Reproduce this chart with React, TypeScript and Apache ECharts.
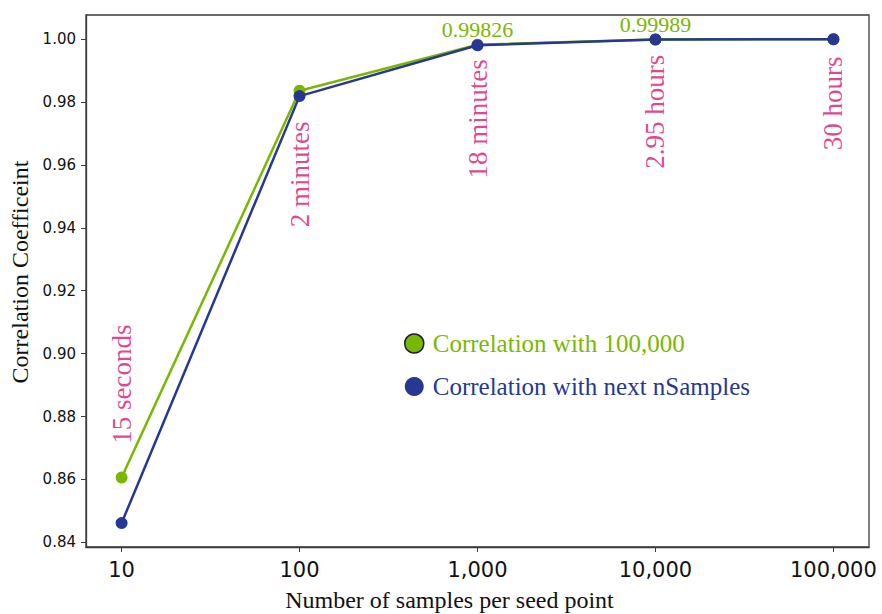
import React, { useEffect, useRef } from "react";
import * as echarts from "echarts";

// x positions are log10(number of samples)
const xExponents = [1, 2, 3, 4, 5];
const xTickLabels = ["10", "100", "1,000", "10,000", "100,000"];
const yTicks = [0.84, 0.86, 0.88, 0.9, 0.92, 0.94, 0.96, 0.98, 1.0];

const seriesNames = ["Correlation with 100,000", "Correlation with next nSamples"];
const corrWith100k = [0.8606, 0.9836, 0.99826, 0.99989, 1.0];
const corrWithNext = [0.8461, 0.9819, 0.9981, 0.9999, 1.0];
const valueLabels = ["", "", "0.99826", "0.99989", ""];

const timeLabels = ["15 seconds", "2 minutes", "18 minutes", "2.95 hours", "30 hours"];
const timeLabelCenters = [0.8903, 0.957, 0.9747, 0.9769, 0.9796];

const GREEN = "#7ab800";
const BLUE = "#263891";
const PINK = "#d81472";
const SERIF = "Liberation Serif";
const SANS = "DejaVu Sans";

export default function App() {
  const ref = useRef<HTMLDivElement>(null);
  useEffect(() => {
    document.body.style.margin = "0";
    const chart = echarts.init(ref.current!, null, { renderer: "svg" });
    chart.setOption({
      animation: false,
      backgroundColor: "#fff",
      grid: {
        left: 86,
        right: 13,
        top: 15,
        bottom: 67,
        outerBoundsMode: "none",
        containLabel: false,
        show: true,
        borderColor: "#3a3a3a",
        borderWidth: 1.3,
        backgroundColor: "transparent",
      },
      xAxis: {
        type: "value",
        min: 0.8,
        max: 5.2,
        name: "Number of samples per seed point",
        nameLocation: "middle",
        nameGap: 41,
        nameTextStyle: { fontFamily: SERIF, fontSize: 24, color: "#111", padding: [0, 56, 0, 0] },
        axisLine: { show: true, lineStyle: { color: "#3a3a3a", width: 1.3 } },
        axisTick: { show: true, length: 5, customValues: xExponents, lineStyle: { color: "#3a3a3a" } },
        axisLabel: {
          customValues: xExponents,
          margin: 12,
          fontFamily: SANS,
          fontSize: 21,
          color: "#111",
          formatter: (v: number) => {
            const i = xExponents.indexOf(Math.round(v));
            return i >= 0 ? xTickLabels[i] : "";
          },
        },
        splitLine: { show: false },
      },
      yAxis: {
        type: "value",
        min: 0.8385,
        max: 1.0077,
        name: "Correlation Coefficeint",
        nameLocation: "middle",
        nameGap: 54,
        nameRotate: 90,
        nameTextStyle: { fontFamily: SERIF, fontSize: 24, color: "#111", padding: [0, 0, 0, 18] },
        axisLine: { show: true, lineStyle: { color: "#3a3a3a", width: 1.3 } },
        axisTick: { show: true, length: 5, customValues: yTicks, lineStyle: { color: "#3a3a3a" } },
        axisLabel: {
          customValues: yTicks,
          margin: 10,
          fontFamily: SANS,
          fontSize: 15,
          color: "#111",
          formatter: (v: number) => v.toFixed(2),
        },
        splitLine: { show: false },
      },
      legend: {
        orient: "vertical",
        left: 399,
        top: 326,
        icon: "circle",
        itemWidth: 19,
        itemHeight: 19,
        itemGap: 18,
        textStyle: { fontFamily: SERIF, fontSize: 25, lineHeight: 25, padding: [0, 0, 0, 4] },
        data: [
          {
            name: seriesNames[0],
            textStyle: { color: GREEN },
            itemStyle: { color: GREEN, borderColor: "#1b1b45", borderWidth: 1.5 },
          },
          {
            name: seriesNames[1],
            textStyle: { color: BLUE },
            itemStyle: { color: BLUE, borderWidth: 0 },
          },
        ],
      },
      series: [
        {
          name: seriesNames[0],
          type: "line",
          data: xExponents.map((x, i) => ({
            value: [x, corrWith100k[i]],
            label: {
              show: valueLabels[i] !== "",
              formatter: valueLabels[i],
            },
          })),
          symbol: "circle",
          symbolSize: 12,
          lineStyle: { color: GREEN, width: 2.5 },
          itemStyle: { color: GREEN },
          label: {
            position: "top",
            distance: -2,
            fontFamily: SERIF,
            fontSize: 22,
            color: GREEN,
          },
          z: 2,
        },
        {
          name: seriesNames[1],
          type: "line",
          data: xExponents.map((x, i) => [x, corrWithNext[i]]),
          symbol: "circle",
          symbolSize: 12,
          lineStyle: { color: BLUE, width: 2.5 },
          itemStyle: { color: BLUE },
          z: 3,
        },
        {
          name: "time",
          type: "scatter",
          data: xExponents.map((x, i) => ({ value: [x, timeLabelCenters[i]], name: timeLabels[i] })),
          symbolSize: 0,
          silent: true,
          label: {
            show: true,
            position: "inside",
            rotate: 90,
            align: "center",
            verticalAlign: "middle",
            formatter: (p: any) => p.name,
            fontFamily: SERIF,
            fontSize: 27,
            color: PINK,
          },
          z: 4,
        },
      ],
    });
    return () => chart.dispose();
  }, []);
  return <div ref={ref} style={{ width: 882, height: 614 }} />;
}
